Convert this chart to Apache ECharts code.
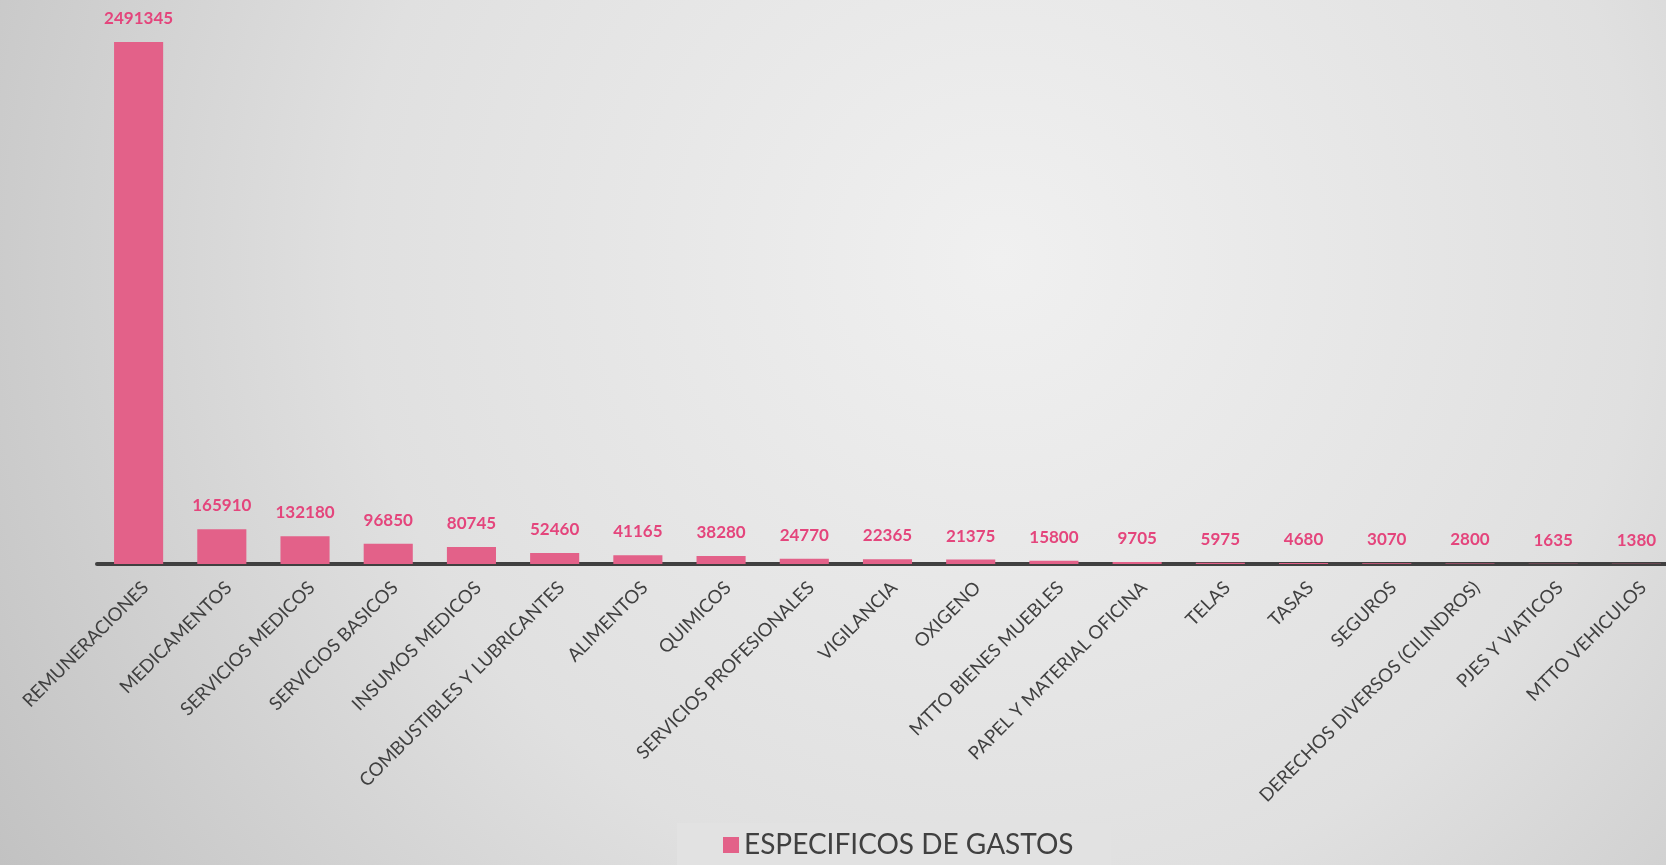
<!DOCTYPE html>
<html>
<head>
<meta charset="utf-8">
<script src="https://cdn.jsdelivr.net/npm/echarts@6/dist/echarts.min.js"></script>
<style>
  html, body { margin: 0; padding: 0; }
  #chart { width: 1666px; height: 865px; }
</style>
</head>
<body>
<div id="chart"></div>
<script>
const categories = [
    'REMUNERACIONES', 'MEDICAMENTOS', 'SERVICIOS MEDICOS', 'SERVICIOS BASICOS',
    'INSUMOS MEDICOS', 'COMBUSTIBLES Y LUBRICANTES', 'ALIMENTOS', 'QUIMICOS',
    'SERVICIOS PROFESIONALES', 'VIGILANCIA', 'OXIGENO', 'MTTO BIENES MUEBLES',
    'PAPEL Y MATERIAL OFICINA', 'TELAS', 'TASAS', 'SEGUROS',
    'DERECHOS DIVERSOS (CILINDROS)', 'PJES Y VIATICOS', 'MTTO VEHICULOS'
];
const gastos = [
    2491345, 165910, 132180, 96850, 80745, 52460, 41165, 38280, 24770, 22365,
    21375, 15800, 9705, 5975, 4680, 3070, 2800, 1635, 1380
];
const seriesName = 'ESPECIFICOS DE GASTOS';

const BAR_COLOR = '#e36189';
const LABEL_COLOR = '#e4457c';
const TEXT_COLOR = '#404040';

let chart = echarts.init(document.getElementById('chart'));

chart.setOption({
    backgroundColor: {
        type: 'radial',
        x: 0.6,
        y: 0.3,
        r: 1.35,
        colorStops: [
            {offset: 0, color: '#f0f0f0'},
            {offset: 0.55, color: '#e0e0e0'},
            {offset: 1, color: '#c2c2c2'}
        ]
    },
    grid: {
        left: 97,
        width: 1581,
        top: 42,
        bottom: 301,
        containLabel: false,
        outerBoundsMode: 'none'
    },
    legend: {
        bottom: 0,
        left: 677,
        data: [seriesName],
        padding: [8, 38, 6, 46],
        backgroundColor: '#e2e2e2',
        itemWidth: 16,
        itemHeight: 16,
        itemGap: 6,
        icon: 'rect',
        textStyle: {
            color: TEXT_COLOR,
            fontFamily: 'Lato',
            fontSize: 28
        }
    },
    xAxis: {
        type: 'category',
        data: categories,
        axisLine: {lineStyle: {color: '#404040', width: 4}},
        axisTick: {show: false},
        axisLabel: {
            interval: 0,
            rotate: 45,
            margin: 14,
            verticalAlign: 'top',
            color: TEXT_COLOR,
            fontFamily: 'Lato',
            fontSize: 18.5
        }
    },
    yAxis: {
        type: 'value',
        min: 0,
        max: 'dataMax',
        show: false,
        splitLine: {show: false}
    },
    series: [{
        name: seriesName,
        type: 'bar',
        data: gastos,
        barCategoryGap: '41%',
        itemStyle: {color: BAR_COLOR},
        label: {
            show: true,
            position: 'top',
            distance: 15,
            color: LABEL_COLOR,
            fontFamily: 'Lato',
            fontWeight: 'bold',
            fontSize: 17
        }
    }]
});

window.addEventListener('resize', function () {
    chart.resize();
});
</script>
</body>
</html>
